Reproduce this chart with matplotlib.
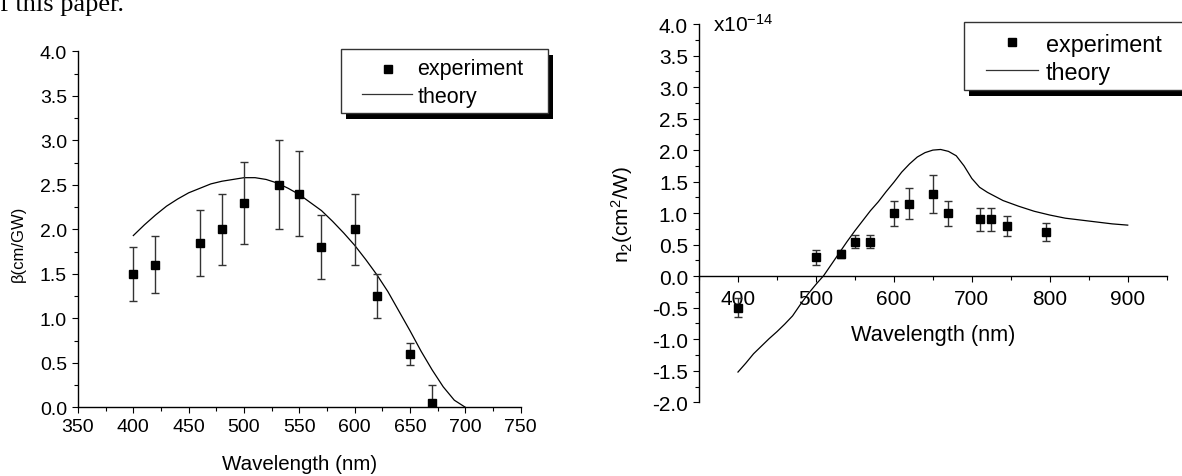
import matplotlib
matplotlib.use("Agg")
import matplotlib.pyplot as plt
from matplotlib.ticker import MultipleLocator, FormatStrFormatter
from matplotlib.patches import Rectangle
from matplotlib.lines import Line2D

plt.rcParams['font.family'] = ['Liberation Sans', 'DejaVu Sans']
plt.rcParams['mathtext.default'] = 'regular'
plt.rcParams['axes.unicode_minus'] = False

# left panel: two-photon absorption beta
beta_wl = [400, 420, 460, 480, 500, 532, 550, 570, 600, 620, 650, 670]
beta_val = [1.5, 1.6, 1.85, 2.0, 2.3, 2.5, 2.4, 1.8, 2.0, 1.25, 0.6, 0.05]
beta_err = [0.3, 0.32, 0.37, 0.4, 0.46, 0.5, 0.48, 0.36, 0.4, 0.25, 0.12, 0.2]

beta_th_wl = [400, 410, 420, 430, 440, 450, 460, 470, 480, 490, 500, 510, 520,
              530, 540, 550, 560, 570, 580, 590, 600, 610, 620, 630, 640, 650,
              660, 670, 680, 690, 700]
beta_th = [1.93, 2.05, 2.16, 2.26, 2.34, 2.41, 2.46, 2.51, 2.54, 2.56, 2.58, 2.58,
           2.56, 2.52, 2.46, 2.39, 2.30, 2.21, 2.09, 1.96, 1.82, 1.66, 1.49, 1.30,
           1.08, 0.86, 0.63, 0.42, 0.23, 0.08, 0.0]

# right panel: nonlinear refractive index n2 (x1e-14)
n2_wl = [400, 500, 532, 550, 570, 600, 620, 650, 670, 710, 725, 745, 795]
n2_val = [-0.5, 0.3, 0.35, 0.55, 0.55, 1.0, 1.15, 1.3, 1.0, 0.9, 0.9, 0.8, 0.7]
n2_err = [0.15, 0.12, 0.06, 0.11, 0.11, 0.2, 0.25, 0.3, 0.2, 0.18, 0.18, 0.16, 0.14]

n2_th_wl = [400, 410, 420, 430, 440, 450, 460, 470, 480, 490, 500, 510, 520, 530,
            540, 550, 560, 570, 580, 590, 600, 610, 620, 630, 640, 650, 660, 670,
            680, 690, 700, 710, 720, 740, 760, 780, 800, 820, 840, 860, 880, 900]
n2_th = [-1.52, -1.38, -1.23, -1.11, -0.99, -0.88, -0.76, -0.63, -0.45, -0.28,
         -0.13, 0.01, 0.19, 0.37, 0.55, 0.72, 0.88, 1.04, 1.18, 1.34, 1.49, 1.65,
         1.78, 1.89, 1.96, 2.00, 2.01, 1.98, 1.91, 1.75, 1.55, 1.41, 1.33, 1.20,
         1.11, 1.03, 0.97, 0.92, 0.89, 0.86, 0.83, 0.81]

W, H = 1182, 477
fig = plt.figure(figsize=(W / 100, H / 100), dpi=100)


def fx(px):
    return px / W


def fy(py):
    return 1 - py / H


def style_axes(ax, fs):
    ax.spines[['top', 'right']].set_visible(False)
    for s in ('left', 'bottom'):
        ax.spines[s].set_linewidth(1.0)
    ax.tick_params(which='major', direction='out', length=4.5, width=0.8,
                   labelsize=fs, pad=3.5)
    ax.tick_params(which='minor', direction='out', length=3, width=0.8)
    ax.yaxis.set_major_formatter(FormatStrFormatter('%.1f'))


def legend_box(x0, y0, x1, y1, mk, line_x, line_y, tx, ty1, ty2, fs):
    fig.add_artist(Rectangle((fx(x0 + 5), fy(y1 + 6)), fx(x1 - x0), (y1 - y0) / H,
                             transform=fig.transFigure, facecolor='black',
                             edgecolor='none', zorder=10))
    fig.add_artist(Rectangle((fx(x0), fy(y1)), fx(x1 - x0), (y1 - y0) / H,
                             transform=fig.transFigure, facecolor='white',
                             edgecolor='#333333', linewidth=1.0, zorder=11))
    fig.add_artist(Line2D([fx(mk[0])], [fy(mk[1])], marker='s', ms=5.5, color='k',
                          linestyle='none', transform=fig.transFigure, zorder=12))
    fig.add_artist(Line2D([fx(line_x[0]), fx(line_x[1])], [fy(line_y), fy(line_y)],
                          color='#333333', lw=0.9, transform=fig.transFigure, zorder=12))
    fig.text(fx(tx), fy(ty1), 'experiment', fontsize=fs, va='baseline', zorder=12)
    fig.text(fx(tx), fy(ty2), 'theory', fontsize=fs, va='baseline', zorder=12)


# ---- left panel ----
ax1 = fig.add_axes([fx(78), fy(408.3), fx(520.7 - 78), (408.3 - 52.3) / H])
ax1.plot(beta_th_wl, beta_th, color='k', lw=0.9)
ax1.errorbar(beta_wl, beta_val, yerr=beta_err, fmt='s', color='k', ms=5.5,
             ecolor='#333333', elinewidth=1, capsize=3, capthick=1)
ax1.set_xlim(350, 750)
ax1.set_ylim(0, 4)
ax1.xaxis.set_major_locator(MultipleLocator(50))
ax1.xaxis.set_minor_locator(MultipleLocator(25))
ax1.yaxis.set_major_locator(MultipleLocator(0.5))
ax1.yaxis.set_minor_locator(MultipleLocator(0.25))
style_axes(ax1, 14)
ax1.set_xlabel('Wavelength (nm)', fontsize=14.8, va='center')
ax1.xaxis.set_label_coords(0.5, (408.3 - 465) / 356)
ax1.set_ylabel('β(cm/GW)', fontsize=12, va='center')
ax1.yaxis.set_label_coords((18 - 78) / 442.7, (408.3 - 244) / 356)

# ---- right panel ----
ax2 = fig.add_axes([fx(699), fy(403.3), fx(1166.7 - 699), (403.3 - 25) / H])
ax2.plot(n2_th_wl, n2_th, color='k', lw=0.9)
ax2.errorbar(n2_wl, n2_val, yerr=n2_err, fmt='s', color='k', ms=5.5,
             ecolor='#333333', elinewidth=1, capsize=3, capthick=1)
ax2.set_xlim(350, 950)
ax2.set_ylim(-2, 4)
ax2.xaxis.set_major_locator(MultipleLocator(100))
ax2.xaxis.set_minor_locator(MultipleLocator(50))
ax2.yaxis.set_major_locator(MultipleLocator(0.5))
ax2.yaxis.set_minor_locator(MultipleLocator(0.25))
style_axes(ax2, 15)
ax2.spines['bottom'].set_position(('data', 0))
ax2.tick_params(axis='x', pad=4.5)
ax2.set_xlabel('Wavelength (nm)', fontsize=15.7, va='center')
ax2.xaxis.set_label_coords(0.5, (403.3 - 335) / 378.3)
ax2.set_ylabel('n$_2$(cm$^2$/W)', fontsize=15, va='center')
ax2.yaxis.set_label_coords((621.7 - 699) / 467.7, 0.5)
fig.text(fx(713), fy(31.7), 'x10$^{-14}$', fontsize=15, va='baseline')

# legends with drop shadow
legend_box(341, 50, 548, 114, (388.3, 70), (361.7, 411.7), 95, 417.3, 75, 103.3, 15.5)
legend_box(964, 22.7, 1192, 91, (1012.3, 42.7), (986, 1038.3), 71, 1045.7, 51.7, 80, 16.8)

# fragment of the surrounding paper text
fig.text(0, fy(11), 'f this paper.', fontsize=19, family='Liberation Serif',
         va='baseline')

fig.savefig('out.png', dpi=100)
